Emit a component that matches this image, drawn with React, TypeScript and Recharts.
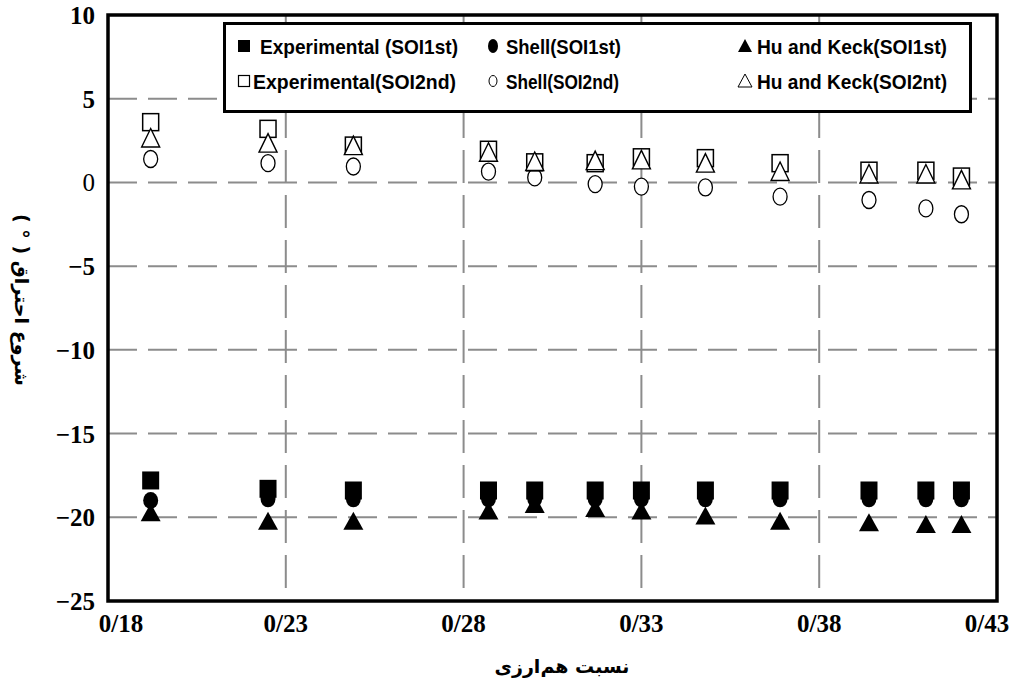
import React from "react";
import {
  ScatterChart,
  Scatter,
  XAxis,
  YAxis,
  CartesianGrid,
  ReferenceArea,
  Label,
} from "recharts";

// equivalence ratio (x) for each measurement group
const ratio = [0.192, 0.225, 0.249, 0.287, 0.3, 0.317, 0.33, 0.348, 0.369, 0.394, 0.41, 0.42];

// start of combustion, first injection
const expSoi1 = [-17.8, -18.3, -18.4, -18.4, -18.4, -18.4, -18.4, -18.4, -18.4, -18.4, -18.4, -18.4];
const shellSoi1 = [-19.0, -18.9, -18.9, -18.9, -18.9, -18.9, -18.9, -18.9, -18.9, -18.9, -18.9, -18.9];
const hkSoi1 = [-19.7, -20.2, -20.2, -19.6, -19.2, -19.45, -19.6, -19.9, -20.2, -20.3, -20.4, -20.4];

// start of combustion, second injection
const expSoi2 = [3.6, 3.2, 2.2, 1.95, 1.2, 1.15, 1.5, 1.45, 1.15, 0.7, 0.7, 0.35];
const shellSoi2 = [1.4, 1.15, 0.95, 0.65, 0.3, -0.1, -0.25, -0.3, -0.85, -1.05, -1.55, -1.9];
const hkSoi2 = [2.65, 2.35, 2.2, 1.8, 1.25, 1.3, 1.35, 1.15, 0.65, 0.5, 0.5, 0.15];

const xTicks = [0.18, 0.23, 0.28, 0.33, 0.38, 0.43];
const yTicks = [-25, -20, -15, -10, -5, 0, 5, 10];

const toPoints = (ys: number[]) => ratio.map((x, i) => ({ x, y: ys[i] }));

const serif = "'Liberation Serif', 'Times New Roman', 'DejaVu Serif', serif";
const arabic = "'DejaVu Sans', 'Noto Sans', sans-serif";
const legendFont = "'Liberation Sans', Arial, 'DejaVu Sans', sans-serif";

const FilledSquare = ({ cx, cy }: any) => (
  <rect x={cx - 8.5} y={cy - 9} width={17} height={18} fill="#000" />
);
const OpenSquare = ({ cx, cy }: any) => (
  <rect x={cx - 8} y={cy - 8.5} width={16} height={17} fill="#fff" stroke="#000" strokeWidth={1.5} />
);
const FilledCircle = ({ cx, cy }: any) => (
  <ellipse cx={cx} cy={cy} rx={7.5} ry={8.5} fill="#000" />
);
const OpenCircle = ({ cx, cy }: any) => (
  <ellipse cx={cx} cy={cy} rx={7} ry={8.5} fill="#fff" stroke="#000" strokeWidth={1.3} />
);
const FilledTriangle = ({ cx, cy }: any) => (
  <polygon points={`${cx},${cy - 9} ${cx + 10},${cy + 9} ${cx - 10},${cy + 9}`} fill="#000" />
);
const OpenTriangle = ({ cx, cy }: any) => (
  <polygon
    points={`${cx},${cy - 9.5} ${cx + 9},${cy + 9} ${cx - 9},${cy + 9}`}
    fill="#fff"
    stroke="#000"
    strokeWidth={1.4}
  />
);

const fmtX = (v: number) => v.toFixed(2).replace(".", "/");
const fmtY = (v: number) => (v < 0 ? `\u2212${Math.abs(v)}` : `${v}`);

const YTick = ({ x, y, payload }: any) => (
  <text
    x={x}
    y={y}
    dy="0.36em"
    textAnchor="end"
    style={{ fontFamily: serif, fontSize: 25, fontWeight: payload.value === 0 ? 400 : 700 }}
    fill="#000"
  >
    {fmtY(payload.value)}
  </text>
);

// first and last labels sit a little inside the frame, like the original
const XTick = ({ x, y, payload }: any) => {
  const v = payload.value;
  const dx = v === 0.18 ? 13 : v === 0.43 ? -10 : 0;
  return (
    <text
      x={x}
      y={y}
      dx={dx}
      dy="0.72em"
      textAnchor="middle"
      style={{ fontFamily: serif, fontSize: 25, fontWeight: 700 }}
      fill="#000"
    >
      {fmtX(v)}
    </text>
  );
};

function LegendBox() {
  const r1 = 21;
  const r2 = 56;
  const txt = (x: number, y: number, s: string, w: number) => (
    <text
      x={x}
      y={y}
      dominantBaseline="central"
      textLength={w}
      lengthAdjust="spacingAndGlyphs"
      style={{ fontFamily: legendFont, fontWeight: 700, fontSize: 21 }}
      fill="#000"
    >
      {s}
    </text>
  );
  return (
    <div
      style={{
        position: "absolute",
        left: 223,
        top: 22,
        width: 749,
        height: 91,
        border: "3px solid #000",
        boxSizing: "border-box",
        background: "#fff",
      }}
    >
      <svg width={743} height={85} style={{ position: "absolute", left: 0, top: 0 }}>
        <rect x={12} y={r1 - 6} width={12} height={12} fill="#000" />
        {txt(34, r1, "Experimental (SOI1st)", 198)}
        <ellipse cx={267} cy={r1} rx={5} ry={7} fill="#000" />
        {txt(280, r1, "Shell(SOI1st)", 115)}
        <polygon points={`${519},${r1 - 7} ${526},${r1 + 6} ${512},${r1 + 6}`} fill="#000" />
        {txt(531, r1, "Hu and Keck(SOI1st)", 190)}

        <rect x={12.5} y={r2 - 5.5} width={11} height={11} fill="#fff" stroke="#000" strokeWidth={1.2} />
        {txt(27, r2, "Experimental(SOI2nd)", 203)}
        <ellipse cx={267} cy={r2} rx={4} ry={5.5} fill="#fff" stroke="#000" strokeWidth={1} />
        {txt(280, r2, "Shell(SOI2nd)", 113)}
        <polygon
          points={`${519},${r2 - 7} ${526},${r2 + 6} ${512},${r2 + 6}`}
          fill="#fff"
          stroke="#000"
          strokeWidth={1}
        />
        {txt(531, r2, "Hu and Keck(SOI2nt)", 190)}
      </svg>
    </div>
  );
}

export default function App() {
  return (
    <div style={{ position: "absolute", left: 0, top: 0, width: 1012, height: 686, background: "#fff" }}>
      <ScatterChart width={1012} height={686} margin={{ top: 15, right: 15, bottom: 40, left: 0 }}>
        <CartesianGrid vertical={false} stroke="#8c8c8c" strokeWidth={2} strokeDasharray="29 11" />
        <CartesianGrid horizontal={false} stroke="#8c8c8c" strokeWidth={2} strokeDasharray="33 12" />
        <XAxis
          type="number"
          dataKey="x"
          domain={[0.18, 0.43]}
          ticks={xTicks}
          axisLine={false}
          tickLine={false}
          tickSize={0}
          tickMargin={13}
          height={45}
          tick={<XTick />}
        >
          <Label
            content={() => (
              <text
                x={562}
                y={666}
                textAnchor="middle"
                dominantBaseline="central"
                style={{ fontFamily: arabic, fontWeight: 700, fontSize: 19 }}
                fill="#000"
              >
                نسبت هم‌ارزی
              </text>
            )}
          />
        </XAxis>
        <YAxis
          type="number"
          dataKey="y"
          domain={[-25, 10]}
          ticks={yTicks}
          axisLine={false}
          tickLine={false}
          tickSize={0}
          tickMargin={13}
          width={108}
          tick={<YTick />}
        >
          <Label
            content={() => (
              <text
                x={22}
                y={300}
                transform="rotate(90 22 300)"
                textAnchor="middle"
                dominantBaseline="central"
                direction="rtl"
                style={{ fontFamily: arabic, fontWeight: 700, fontSize: 19 }}
                fill="#000"
              >
                شروع احتراق ( ° )
              </text>
            )}
          />
        </YAxis>

        <Scatter data={toPoints(shellSoi1)} shape={<FilledCircle />} isAnimationActive={false} />
        <Scatter data={toPoints(expSoi1)} shape={<FilledSquare />} isAnimationActive={false} />
        <Scatter data={toPoints(hkSoi1)} shape={<FilledTriangle />} isAnimationActive={false} />
        <Scatter data={toPoints(shellSoi2)} shape={<OpenCircle />} isAnimationActive={false} />
        <Scatter data={toPoints(expSoi2)} shape={<OpenSquare />} isAnimationActive={false} />
        <Scatter data={toPoints(hkSoi2)} shape={<OpenTriangle />} isAnimationActive={false} />

        <ReferenceArea
          x1={0.18}
          x2={0.43}
          y1={-25}
          y2={10}
          fill="none"
          fillOpacity={0}
          stroke="#000"
          strokeWidth={3.5}
          ifOverflow="visible"
        />
      </ScatterChart>
      <LegendBox />
    </div>
  );
}
